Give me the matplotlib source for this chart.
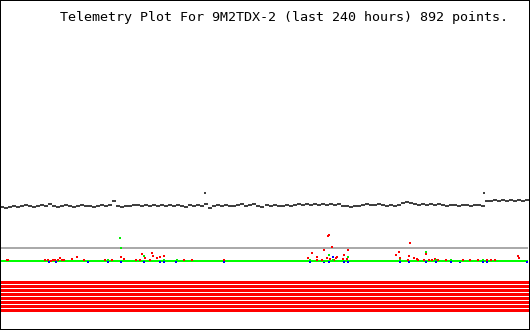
import numpy as np
import matplotlib
matplotlib.use("Agg")
import matplotlib.pyplot as plt

# telemetry window
hours = 240
n_points = 892
title = "Telemetry Plot For 9M2TDX-2 (last 240 hours) 892 points."

# channel 1 (dark trace), read roughly every 4 px across the plot
a1_values = [123, 122, 123, 124, 123, 124, 125, 124, 123, 124, 125, 124, 126, 124, 123, 124,
             125, 124, 123, 124, 125, 124, 124, 123, 124, 125, 124, 125, 129, 124, 123, 124,
             124, 125, 125, 124, 125, 124, 125, 124, 125, 124, 125, 124, 125, 124, 123, 125,
             124, 125, 124, 126, 122, 124, 125, 124, 125, 124, 124, 125, 126, 124, 125, 126,
             124, 123, 125, 124, 125, 124, 124, 125, 124, 125, 126, 125, 126, 125, 126, 125,
             126, 125, 126, 125, 126, 124, 124, 123, 124, 124, 125, 126, 125, 125, 126, 125,
             124, 125, 124, 125, 127, 128, 127, 126, 125, 126, 125, 126, 125, 126, 125, 124,
             125, 125, 124, 125, 125, 124, 125, 125, 124, 129, 129, 130, 129, 130, 129, 130,
             129, 130, 129, 130]
a1_time = np.linspace(0.5, 239.5, len(a1_values))
a1_spike_t = [92.9, 220.0]
a1_spike_v = [137, 137]

# channel 2 (gray) and channel 3 (green) sit flat
a2_level = 81.5
a3_level = 68.3

# channel 4 (red) scattered readings
a4_t = [2.7, 3.2, 20.0, 21.4, 22.8, 23.7, 24.6, 26.0, 26.9, 27.8, 28.7, 32.3, 34.6, 37.8,
        47.4, 50.5, 54.6, 56.0, 61.5, 63.3, 64.2, 65.6, 67.9, 68.8, 69.2, 71.0, 72.4, 74.2,
        83.3, 87.0, 101.5,
        139.8, 141.6, 143.9, 143.9, 146.2, 147.1, 148.5, 148.9, 149.4, 149.8, 150.7, 151.6,
        152.6, 153.0, 155.7, 156.2, 157.6, 158.0,
        179.9, 181.2, 181.7, 185.3, 185.8, 186.2, 188.1, 189.5, 189.9, 192.6, 193.5, 194.9,
        196.3, 197.6, 199.0, 202.6, 210.4, 213.6, 217.2, 221.3, 223.1, 225.0, 235.4, 235.9]
a4_v = [70, 70, 70, 70, 69, 70, 70, 70, 72, 70, 70, 71, 73, 70,
        70, 70, 73, 71, 70, 70, 76, 72, 70, 77, 74, 72, 73, 74,
        70, 70, 70,
        72, 77, 73, 70, 70, 80, 72, 94, 95, 71, 83, 70,
        72, 73, 71, 75, 71, 80,
        75, 78, 72, 70, 74, 87, 72, 71, 70, 70, 76, 70,
        70, 71, 70, 70, 70, 70, 70, 70, 70, 70, 74, 72]

# channel 5 (green) readings
a5_t = [54.2, 54.6, 65.1, 74.2, 48.7, 80.1, 140.7, 147.1, 149.4, 151.2, 158.0, 181.7,
        193.5, 198.1, 204.9, 209.0, 219.5]
a5_v = [92, 82, 74, 70, 70, 70, 70, 69, 75, 70, 73, 70, 78, 70, 70, 69, 70]

# blue readings just under the green line
b_t = [21.9, 25.0, 39.6, 48.7, 54.6, 65.1, 72.4, 74.2, 79.7, 101.5, 140.7, 147.1, 149.4,
       151.2, 156.2, 158.0, 181.7, 185.8, 193.5, 198.1, 204.9, 209.0, 219.5, 221.3, 239.5]
b_v = [67.5, 67.5, 68, 67.5, 67.5, 67.5, 67.5, 67.5, 67.5, 67.5, 67.5, 67.5, 67.5,
       73, 67.5, 67.5, 67.5, 67.5, 67.5, 67.5, 67.5, 67.5, 67.5, 67.5, 68]

# digital bits, all set -> one band per bit
bit_levels = [47.5, 43.5, 39.5, 35.5, 31.5, 27.5, 23.5, 19.5]

fig = plt.figure(figsize=(5.3, 3.3), dpi=100)
ax = fig.add_axes([0, 0, 1, 1])
ax.set_xlim(-0.455, 240.91)
ax.set_ylim(-0.5, 329.5)
ax.set_xticks([])
ax.set_yticks([])
for s in ax.spines.values():
    s.set_linewidth(1.44)
    s.set_color("black")

# bit bands
for lv in bit_levels:
    ax.plot([0, hours], [lv, lv], color="#ff0000", lw=2.16, solid_capstyle="butt", antialiased=False)

ax.plot([0, hours], [a2_level, a2_level], color="#aaaaaa", lw=1.44, solid_capstyle="butt", antialiased=False)
ax.plot([0, hours], [a3_level, a3_level], color="#00ff00", lw=1.44, solid_capstyle="butt", antialiased=False)

dot = dict(ls="none", marker="s", ms=2.0, mew=0, antialiased=False)
ax.plot(b_t, b_v, color="#0000ff", **dot)
ax.plot(a4_t, a4_v, color="#ff0000", **dot)
ax.plot(a5_t, a5_v, color="#00ee00", **dot)

ax.plot(a1_time, a1_values, ls="none", marker="_", ms=3.2, mew=1.44, color="#404040", antialiased=False)
ax.plot(a1_spike_t, a1_spike_v, ls="none", marker="s", ms=1.5, mew=0, color="#404040", antialiased=False)

ax.text(hours * 0.5 + 9, 312, title, family="DejaVu Sans Mono", fontsize=9.6,
        ha="center", va="center", color="black")

fig.savefig("out.png", dpi=100)
